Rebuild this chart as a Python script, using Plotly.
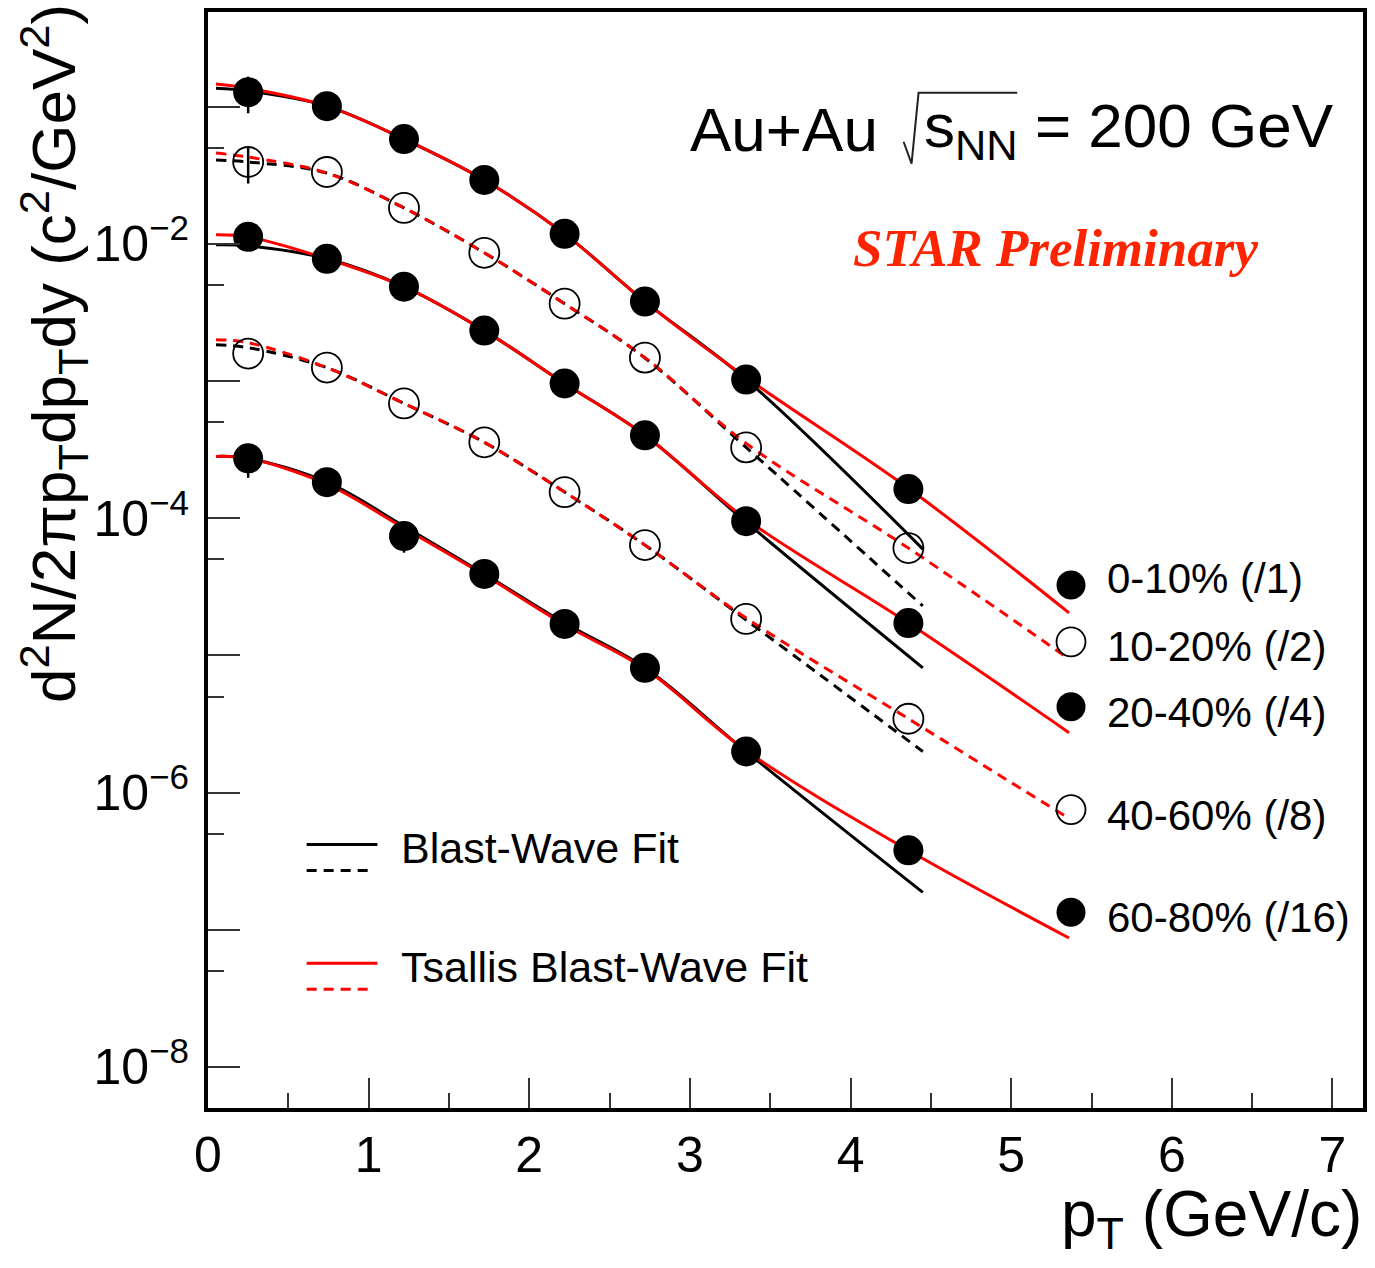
import plotly.graph_objects as go

# ---------------- data ----------------
pt = [0.25, 0.74, 1.22, 1.72, 2.22, 2.72, 3.35, 4.36]

y_0_10 = [0.1275, 0.1008, 0.0580, 0.0292, 0.01182, 3.79e-3, 1.025e-3, 1.63e-4]
y_10_20 = [0.0395, 0.0334, 0.01827, 8.60e-3, 3.66e-3, 1.48e-3, 3.28e-4, 6.05e-5]
y_20_40 = [0.01124, 7.78e-3, 4.87e-3, 2.33e-3, 9.59e-4, 4.02e-4, 9.51e-5, 1.72e-5]
y_40_60 = [1.585e-3, 1.253e-3, 6.86e-4, 3.57e-4, 1.546e-4, 6.36e-5, 1.843e-5, 3.45e-6]
y_60_80 = [2.73e-4, 1.83e-4, 7.40e-5, 3.92e-5, 1.694e-5, 8.11e-6, 1.99e-6, 3.79e-7]

e_0_10 = [0.038, 0, 0, 0, 0, 0, 0, 0]
e_10_20 = [0.012, 0, 0, 0, 0, 0, 0, 0]
e_20_40 = [0, 0, 0, 0, 0, 0, 0, 0]
e_40_60 = [0, 0, 0, 0, 0, 0, 0, 0]
e_60_80 = [7.6e-5, 0, 1.8e-5, 0, 0, 0, 0, 0]

# Blast-Wave fit curves
bw_pt = [0.05, 0.25, 0.74, 1.22, 1.72, 2.22, 2.72, 3.35, 4.45]
bw_0_10 = [0.136, 0.130, 0.1008, 0.0580, 0.0292, 0.01182, 3.79e-3, 1.025e-3, 5.95e-5]
bw_10_20 = [0.0408, 0.0395, 0.0328, 0.01827, 8.60e-3, 3.66e-3, 1.47e-3, 3.28e-4, 2.29e-5]
bw_20_40 = [9.83e-3, 9.67e-3, 7.78e-3, 4.87e-3, 2.33e-3, 9.59e-4, 4.02e-4, 9.35e-5, 8.11e-6]
bw_40_60 = [1.84e-3, 1.75e-3, 1.25e-3, 6.86e-4, 3.57e-4, 1.55e-4, 6.36e-5, 1.81e-5, 1.99e-6]
bw_60_80 = [2.82e-4, 2.73e-4, 1.83e-4, 8.74e-5, 3.92e-5, 1.72e-5, 8.11e-6, 1.99e-6, 1.87e-7]

# Tsallis Blast-Wave fit curves
ts_pt = [0.05, 0.25, 0.74, 1.22, 1.72, 2.22, 2.72, 3.35, 4.36, 5.36]
ts_0_10 = [0.146, 0.136, 0.1008, 0.0580, 0.0292, 0.01182, 3.79e-3, 1.06e-3, 1.65e-4, 2.04e-5]
ts_10_20 = [0.0459, 0.0429, 0.0328, 0.01827, 8.60e-3, 3.66e-3, 1.48e-3, 3.51e-4, 6.05e-5, 9.4e-6]
ts_20_40 = [0.01163, 0.01124, 7.78e-3, 4.87e-3, 2.33e-3, 9.59e-4, 4.02e-4, 9.83e-5, 1.72e-5, 2.73e-6]
ts_40_60 = [2.00e-3, 1.90e-3, 1.25e-3, 6.86e-4, 3.57e-4, 1.55e-4, 6.36e-5, 1.87e-5, 3.45e-6, 6.47e-7]
ts_60_80 = [2.82e-4, 2.73e-4, 1.77e-4, 8.46e-5, 3.85e-5, 1.67e-5, 7.97e-6, 2.02e-6, 3.79e-7, 8.7e-8]

labels = ["0-10% (/1)", "10-20% (/2)", "20-40% (/4)", "40-60% (/8)", "60-80% (/16)"]
open_marker = [False, True, False, True, False]

y_tickvals = [1e-8, 1e-7, 1e-6, 1e-5, 1e-4, 1e-3, 1e-2, 1e-1]
y_ticktext = ["10<sup>\u22128</sup>", "", "10<sup>\u22126</sup>", "", "10<sup>\u22124</sup>", "",
              "10<sup>\u22122</sup>", ""]
y_minor = [5e-9, 5e-8, 5e-7, 5e-6, 5e-5, 5e-4, 5e-3, 5e-2]
x_tickvals = [0, 1, 2, 3, 4, 5, 6, 7]
x_minor = [0.5, 1.5, 2.5, 3.5, 4.5, 5.5, 6.5]

# ---------------- figure ----------------
W, H = 1375, 1268
L, R, T, B = 208, 1367, 10, 1108
FONT = "Liberation Sans, Arial, Helvetica, sans-serif"


def pxx(v):
    return (v - L) / (R - L)


def pxy(v):
    return (B - v) / (B - T)


datasets = [y_0_10, y_10_20, y_20_40, y_40_60, y_60_80]
errors = [e_0_10, e_10_20, e_20_40, e_40_60, e_60_80]
bws = [bw_0_10, bw_10_20, bw_20_40, bw_40_60, bw_60_80]
tss = [ts_0_10, ts_10_20, ts_20_40, ts_40_60, ts_60_80]

fig = go.Figure()
DASH = "10px,7px"
for i in range(5):
    fig.add_trace(go.Scatter(x=bw_pt, y=bws[i], mode="lines", line_shape="spline",
                             line=dict(color="black", width=3,
                                       dash=DASH if open_marker[i] else "solid"),
                             showlegend=False, hoverinfo="skip"))
for i in range(5):
    fig.add_trace(go.Scatter(x=ts_pt, y=tss[i], mode="lines", line_shape="spline",
                             line=dict(color="#ff0000", width=3,
                                       dash=DASH if open_marker[i] else "solid"),
                             showlegend=False, hoverinfo="skip"))
for i in range(5):
    if open_marker[i]:
        mk = dict(symbol="circle-open", size=30, color="black", line=dict(width=1.8, color="black"))
    else:
        mk = dict(symbol="circle", size=30, color="black", line=dict(width=0))
    fig.add_trace(go.Scatter(x=pt, y=datasets[i], mode="markers", marker=mk, name=labels[i],
                             error_y=dict(type="data", array=errors[i], symmetric=True,
                                          thickness=2.5, width=0, color="black"),
                             showlegend=False))

shapes = []
annotations = []

# legend markers (right side)
leg_marker_y = [584, 641, 706, 809, 912]
leg_text_y = [578, 646, 712, 815, 917]
for i in range(5):
    shapes.append(dict(type="circle", xref="paper", yref="paper", xsizemode="pixel", ysizemode="pixel",
                       xanchor=pxx(1074), yanchor=pxy(leg_marker_y[i]),
                       x0=-14.5, x1=14.5, y0=-14.5, y1=14.5,
                       fillcolor="rgba(0,0,0,0)" if open_marker[i] else "black",
                       line=dict(color="black", width=1.8 if open_marker[i] else 0)))
    annotations.append(dict(x=pxx(1108), y=pxy(leg_text_y[i]), xref="paper", yref="paper",
                            xanchor="left", yanchor="middle", text=labels[i], showarrow=False,
                            font=dict(family=FONT, size=42, color="black")))

# fit legend
for (yl, col, dsh) in [(844, "black", "solid"), (870, "black", "dash"), (963, "#ff0000", "solid"), (989, "#ff0000", "dash")]:
    shapes.append(dict(type="line", xref="paper", yref="paper", x0=pxx(307), x1=pxx(378 if dsh == "solid" else 374),
                       y0=pxy(yl), y1=pxy(yl),
                       line=dict(color=col, width=3, dash=DASH if dsh == "dash" else "solid")))
annotations.append(dict(x=pxx(400), y=pxy(848), xref="paper", yref="paper", xanchor="left", yanchor="middle",
                        text="Blast-Wave Fit", showarrow=False, font=dict(family=FONT, size=43, color="black")))
annotations.append(dict(x=pxx(400), y=pxy(967), xref="paper", yref="paper", xanchor="left", yanchor="middle",
                        text="Tsallis Blast-Wave Fit", showarrow=False, font=dict(family=FONT, size=43, color="black")))

# header texts (radical sign drawn as a path)
annotations.append(dict(x=pxx(690), y=pxy(128), xref="paper", yref="paper", xanchor="left", yanchor="middle",
                        text="Au+Au", showarrow=False,
                        font=dict(family=FONT, size=62, color="black")))
annotations.append(dict(x=pxx(1340), y=pxy(128), xref="paper", yref="paper", xanchor="right", yanchor="middle",
                        text="s<sub>NN</sub> = 200 GeV", showarrow=False,
                        font=dict(family=FONT, size=62, color="black")))
rad = [(906, 140), (914, 162), (921, 91), (1020, 91)]
path = "M " + " L ".join("%.5f,%.5f" % (pxx(a), pxy(b)) for a, b in rad)
shapes.append(dict(type="path", xref="paper", yref="paper", path=path,
                   line=dict(color="#222", width=2)))
annotations.append(dict(x=pxx(1058), y=pxy(246), xref="paper", yref="paper", xanchor="center", yanchor="middle",
                        text="<b><i>STAR Preliminary</i></b>", showarrow=False,
                        font=dict(family="Liberation Serif, Times New Roman, serif", size=53, color="rgb(255,36,0)")))

# axis titles
annotations.append(dict(x=pxx(1368), y=pxy(1218), xref="paper", yref="paper", xanchor="right", yanchor="middle",
                        text="p<sub>T</sub> (GeV/c)", showarrow=False,
                        font=dict(family=FONT, size=64, color="black")))
annotations.append(dict(x=pxx(53), y=pxy(352), xref="paper", yref="paper", xanchor="center", yanchor="middle",
                        textangle=-90,
                        text="d<sup>2</sup>N/2\u03c0p<sub>T</sub>dp<sub>T</sub>dy (c<sup>2</sup>/GeV<sup>2</sup>)",
                        showarrow=False, font=dict(family=FONT, size=62, color="black")))

fig.update_layout(
    width=W, height=H,
    margin=dict(l=L, r=W - R, t=T, b=H - B),
    paper_bgcolor="white", plot_bgcolor="white",
    showlegend=False,
    shapes=shapes, annotations=annotations,
    xaxis=dict(range=[0, 7.19], showgrid=False, zeroline=False,
               showline=True, linewidth=4, linecolor="black", mirror=True,
               ticks="inside", ticklen=30, tickwidth=1.6, tickcolor="#333",
               tickvals=x_tickvals, ticktext=[str(v) for v in x_tickvals],
               tickfont=dict(family=FONT, size=50, color="black"), ticklabelstandoff=0,
               minor=dict(tickvals=x_minor, ticks="inside", ticklen=15, tickwidth=1.6, tickcolor="#333",
                          showgrid=False)),
    yaxis=dict(type="log", range=[-8.3, -0.31], showgrid=False, zeroline=False,
               showline=True, linewidth=4, linecolor="black", mirror=True,
               ticks="inside", ticklen=32, tickwidth=1.6, tickcolor="#333",
               tickvals=y_tickvals, ticktext=y_ticktext,
               tickfont=dict(family=FONT, size=50, color="black"), ticklabelstandoff=5,
               minor=dict(tickvals=y_minor, ticks="inside", ticklen=16, tickwidth=1.6, tickcolor="#333",
                          showgrid=False)),
)

fig.write_html("out.html")
